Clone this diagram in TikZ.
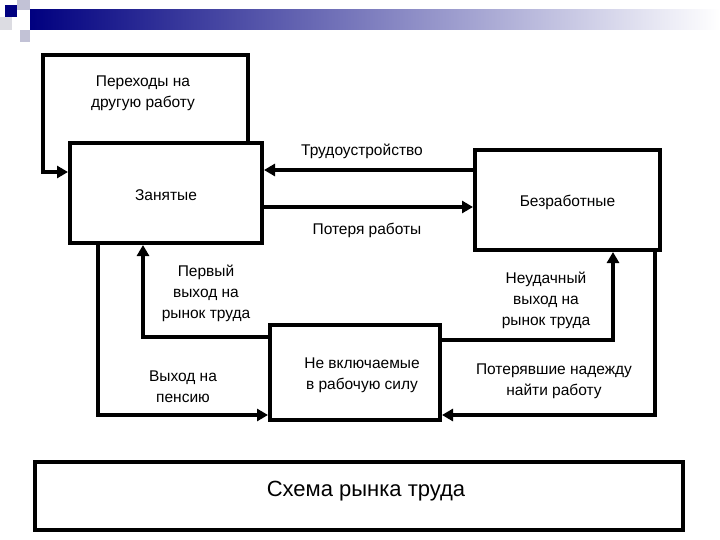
\documentclass[tikz,border=0pt]{standalone}
\usepackage{fontspec}
\setmainfont{Liberation Sans}
\usetikzlibrary{arrows.meta,positioning}

\tikzset{
  box/.style={draw, line width=4pt, inner sep=0pt},
  flow/.style={line width=4pt, -{Triangle[length=11pt,width=12pt]}},
  lbl/.style={font=\fontsize{15.5}{21}\selectfont, align=center}
}

\begin{document}
\begin{tikzpicture}[x=1pt, y=-1pt]

% Fix the page size
\useasboundingbox (0,0) rectangle (720,540);

% Header decoration
\shade[left color=blue!50!black, right color=white] (30,10) rectangle (720,30);
\fill[blue!50!black] (5,5) rectangle (17,17);
\fill[blue!20!gray!40] (17,0) rectangle (30,10);
\fill[blue!20!gray!40] (20,30) rectangle (30,42);
\fill[blue!10!gray!25] (0,17) rectangle (12,30);

% Boxes
\node[box, minimum width=192pt, minimum height=100pt] (emp) at (166,193) {};
\node[lbl] at (166,195) {Занятые};
\node[box, minimum width=185pt, minimum height=100pt] (unemp) at (567.5,200) {};
\node[lbl] at (567.5,202) {Безработные};
\node[box, minimum width=170pt, minimum height=95pt] (nilf) at (355,372.5) {};
\node[lbl] at (362,375) {Не включаемые\\в рабочую силу};
\node[box, line width=3.5pt, minimum width=648pt, minimum height=68pt] (title) at (359,496) {};
\node[font=\fontsize{22}{26}\selectfont] at (366,491) {Схема рынка труда};

% Named corner points
\coordinate (ta) at (248,143);
\coordinate (tb) at (248,55);
\coordinate (tc) at (43,55);
\coordinate (td) at (43,172);
\coordinate (ea) at (98,243);
\coordinate (eb) at (98,415);
\coordinate (fa) at (270,337);
\coordinate (fb) at (143,337);
\coordinate (ga) at (440,340);
\coordinate (gb) at (613,340);
\coordinate (ha) at (655,250);
\coordinate (hb) at (655,415);

% Flows
\draw[flow] (ta) -- (tb) -- (tc) -- (td) -- (td -| emp.west);
\draw[flow] (unemp.west |- 0,170) -- (emp.east |- 0,170);
\draw[flow] (emp.east |- 0,207) -- (unemp.west |- 0,207);
\draw[flow] (ea) -- (eb) -- (eb -| nilf.west);
\draw[flow] (fa) -- (fb) -- (fb |- emp.south);
\draw[flow] (ga) -- (gb) -- (gb |- unemp.south);
\draw[flow] (ha) -- (hb) -- (hb -| nilf.east);

% Labels
\node[lbl] at (143,93) {Переходы на\\другую работу};
\node[lbl] at (362,151) {Трудоустройство};
\node[lbl] at (367,230) {Потеря работы};
\node[lbl] at (206,293) {Первый\\выход на\\рынок труда};
\node[lbl] at (546,300) {Неудачный\\выход на\\рынок труда};
\node[lbl] at (183,387) {Выход на\\пенсию};
\node[lbl] at (554,381) {Потерявшие надежду\\найти работу};

\end{tikzpicture}
\end{document}
